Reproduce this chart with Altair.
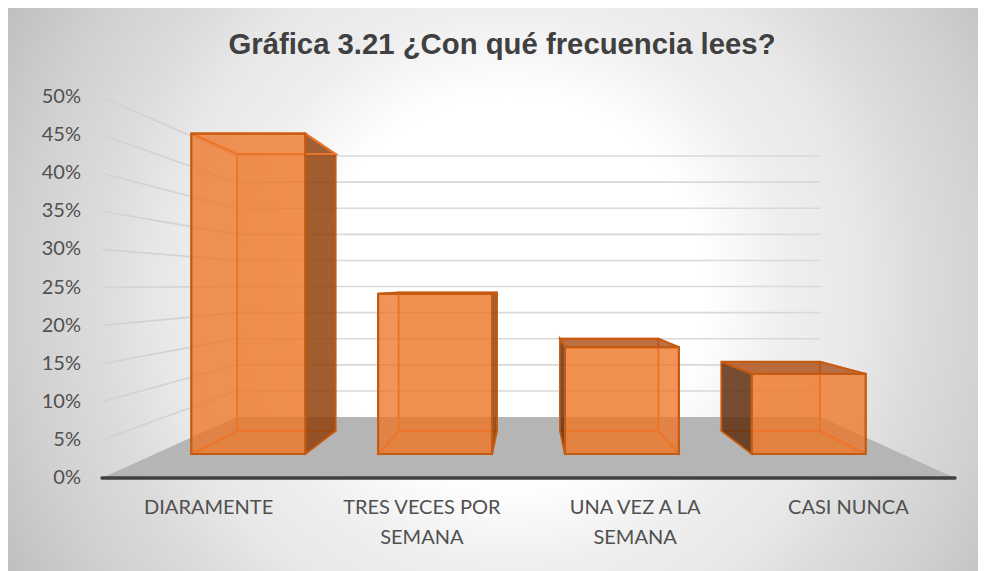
import altair as alt
import pandas as pd

# ---- values ----
categories = ["DIARAMENTE", "TRES VECES POR SEMANA", "UNA VEZ A LA SEMANA", "CASI NUNCA"]
values = [48, 24, 16, 12]
tick_values = [0, 5, 10, 15, 20, 25, 30, 35, 40, 45, 50]
wrapped = ["DIARAMENTE", "TRES VECES POR|SEMANA", "UNA VEZ A LA|SEMANA", "CASI NUNCA"]
title_text = "Gráfica 3.21 ¿Con qué frecuencia lees?"

# ---- 3-D view of the column chart ----
W, H = 970, 563
SLOT_PX, PCT_PX = 213.25, 7.62
X_DOM = [(8 - 102) / SLOT_PX, (978 - 102) / SLOT_PX]
Y_DOM = [-(H - 470) / PCT_PX, 470 / PCT_PX]
VP_X, VP_Y = 2.0, 25.4            # vanishing point
WALL_S = 0.685                    # depth scale of the back wall
NEAR_S, FAR_S = 0.876, 0.757      # depth scale of the column's faces
BAR_W = 0.61


def px(x, s):
    return VP_X + (x - VP_X) * s


def py(v, s):
    return VP_Y + (v - VP_Y) * s


x_scale = alt.Scale(domain=X_DOM, nice=False, zero=False)
y_scale = alt.Scale(domain=Y_DOM, nice=False, zero=False)
X = lambda f: alt.X(f, type="quantitative", scale=x_scale, axis=None)
Y = lambda f: alt.Y(f, type="quantitative", scale=y_scale, axis=None)

EDGE, SOFT = "#C55A11", "#E8762B"
ORANGE = "#EE7424"

back, bottom, front, sides, tops = [], [], [], [], []
for i, (c, v) in enumerate(zip(categories, values)):
    xl, xr = i + 0.5 - BAR_W / 2, i + 0.5 + BAR_W / 2
    back.append(dict(x0=px(xl, FAR_S), x1=px(xr, FAR_S), y0=py(0, FAR_S), y1=py(v, FAR_S)))
    front.append(dict(x0=px(xl, NEAR_S), x1=px(xr, NEAR_S), y0=py(0, NEAR_S), y1=py(v, NEAR_S)))
    bottom += [
        dict(id=i, y=py(0, NEAR_S), x0=px(xl, NEAR_S), x1=px(xr, NEAR_S)),
        dict(id=i, y=py(0, FAR_S), x0=px(xl, FAR_S), x1=px(xr, FAR_S)),
    ]
    # side faces: the one turned towards the viewer is shaded
    left_seen = px(xl, FAR_S) < px(xl, NEAR_S)
    right_seen = px(xr, FAR_S) > px(xr, NEAR_S)
    for side, xs, seen, col in (("l", xl, left_seen, "#5A2B0E"), ("r", xr, right_seen, "#8E3E09")):
        for s in (NEAR_S, FAR_S):
            sides.append(dict(id=f"{i}{side}", x=px(xs, s), y0=py(0, s), y1=py(v, s),
                              fill=col, a=0.82 if seen else 0.0, stroke=EDGE if seen else SOFT))
    top_seen = py(v, FAR_S) > py(v, NEAR_S)
    for s in (NEAR_S, FAR_S):
        tops.append(dict(id=i, y=py(v, s), x0=px(xl, s), x1=px(xr, s),
                         a=0.8 if top_seen else 0.0, stroke=EDGE if top_seen else SOFT))

# ---- background: radial gradient on a square, so that it is circular ----
cx, cy = (X_DOM[0] + X_DOM[1]) / 2, (Y_DOM[0] + Y_DOM[1]) / 2
half_y = (W / 2) / PCT_PX
bg_df = pd.DataFrame([dict(x0=X_DOM[0], x1=X_DOM[1], y0=cy - half_y, y1=cy + half_y)])
gradient = {
    "gradient": "radial", "x1": 0.5175, "y1": 0.5, "r1": 0, "x2": 0.5175, "y2": 0.5, "r2": 0.62,
    "stops": [{"offset": 0, "color": "#ffffff"}, {"offset": 0.32, "color": "#ffffff"},
              {"offset": 0.466, "color": "#eeeeee"}, {"offset": 0.58, "color": "#e8e8e8"},
              {"offset": 0.68, "color": "#dcdcdc"}, {"offset": 0.815, "color": "#d0d0d0"},
              {"offset": 0.95, "color": "#c0c0c0"}, {"offset": 1, "color": "#bbbbbb"}],
}
bg = alt.Chart(bg_df).mark_rect(fill=gradient).encode(X("x0"), x2="x1", y=Y("y0"), y2="y1")

# ---- walls and floor ----
grid_v = [t for t in tick_values if t > 0]
back_grid = alt.Chart(pd.DataFrame([dict(y=py(t, WALL_S), x0=px(0, WALL_S), x1=px(4, WALL_S)) for t in grid_v])
                      ).mark_rule(color="#D9D9D9", strokeWidth=1.6).encode(X("x0"), x2="x1", y=Y("y"))

side_rows = []
for t in grid_v:
    side_rows += [dict(t=t, x=px(0, 1), y=py(t, 1)), dict(t=t, x=px(0, WALL_S), y=py(t, WALL_S))]
side_grid = alt.Chart(pd.DataFrame(side_rows)).mark_line(color="#D2D2D2", strokeWidth=1.6).encode(
    X("x"), Y("y"), detail="t:N")

floor = alt.Chart(pd.DataFrame([
    dict(y=py(0, 1), x0=px(0, 1), x1=px(4, 1)),
    dict(y=py(0, WALL_S), x0=px(0, WALL_S), x1=px(4, WALL_S)),
])).mark_area(orient="horizontal", fill="#B5B5B5").encode(X("x0"), x2="x1", y=Y("y"))

axis_line = alt.Chart(pd.DataFrame([dict(x0=0, x1=4, y=0)])).mark_rule(
    color="#404040", strokeWidth=3.5, strokeCap="round").encode(X("x0"), x2="x1", y=Y("y"))

# ---- columns ----
face = dict(stroke=SOFT, strokeWidth=1.6, fill=ORANGE, fillOpacity=0.14)
back_faces = alt.Chart(pd.DataFrame(back)).mark_rect(**face).encode(X("x0"), x2="x1", y=Y("y0"), y2="y1")
bottom_faces = alt.Chart(pd.DataFrame(bottom)).mark_area(orient="horizontal", **face).encode(
    X("x0"), x2="x1", y=Y("y"), detail="id:N")
side_faces = alt.Chart(pd.DataFrame(sides)).mark_area(orient="vertical", strokeWidth=1.6).encode(
    X("x"), Y("y0"), y2="y1", detail="id:N",
    fill=alt.Fill("fill:N", scale=None), fillOpacity=alt.FillOpacity("a:Q", scale=None),
    stroke=alt.Stroke("stroke:N", scale=None))
top_faces = alt.Chart(pd.DataFrame(tops)).mark_area(orient="horizontal", fill="#AC4F16", strokeWidth=2).encode(
    X("x0"), x2="x1", y=Y("y"), detail="id:N",
    fillOpacity=alt.FillOpacity("a:Q", scale=None), stroke=alt.Stroke("stroke:N", scale=None))
front_faces = alt.Chart(pd.DataFrame(front)).mark_rect(
    stroke=EDGE, strokeWidth=2.2, fill=ORANGE, fillOpacity=0.77).encode(X("x0"), x2="x1", y=Y("y0"), y2="y1")

# ---- tick and category labels, placed through the same scales ----
TEXT = dict(font="Lato", fontSize=20, color="#505050")
y_labels = alt.Chart(pd.DataFrame({"v": tick_values, "x": [(81 - 102) / SLOT_PX] * len(tick_values),
                                   "t": [f"{t}%" for t in tick_values]})).mark_text(
    align="right", baseline="middle", **TEXT).encode(X("x"), Y("v"), text="t:N")

cat_rows = []
for i, w in enumerate(wrapped):
    for j, line in enumerate(w.split("|")):
        cat_rows.append(dict(x=i + 0.5, y=-(508 + 30 * j - 478) / PCT_PX, t=line))
x_labels = alt.Chart(pd.DataFrame(cat_rows)).mark_text(
    align="center", baseline="middle", **TEXT).encode(X("x"), Y("y"), text="t:N")

title = alt.Chart(pd.DataFrame([dict(x=(502 - 102) / SLOT_PX, y=(478 - 44.5) / PCT_PX, t=title_text)])).mark_text(
    align="center", baseline="middle", font="Liberation Sans", fontSize=29.3, fontWeight="bold",
    color="#404040").encode(X("x"), Y("y"), text="t:N")

chart = alt.layer(
    bg, back_grid, floor, side_grid, axis_line,
    back_faces, bottom_faces, side_faces, top_faces, front_faces,
    y_labels, x_labels, title,
).properties(
    width=W, height=H, padding=0, background="white",
    autosize=alt.AutoSizeParams(type="none"),
).configure_view(stroke=None)

chart.save("out.html", embed_options={"renderer": "svg", "actions": False})
